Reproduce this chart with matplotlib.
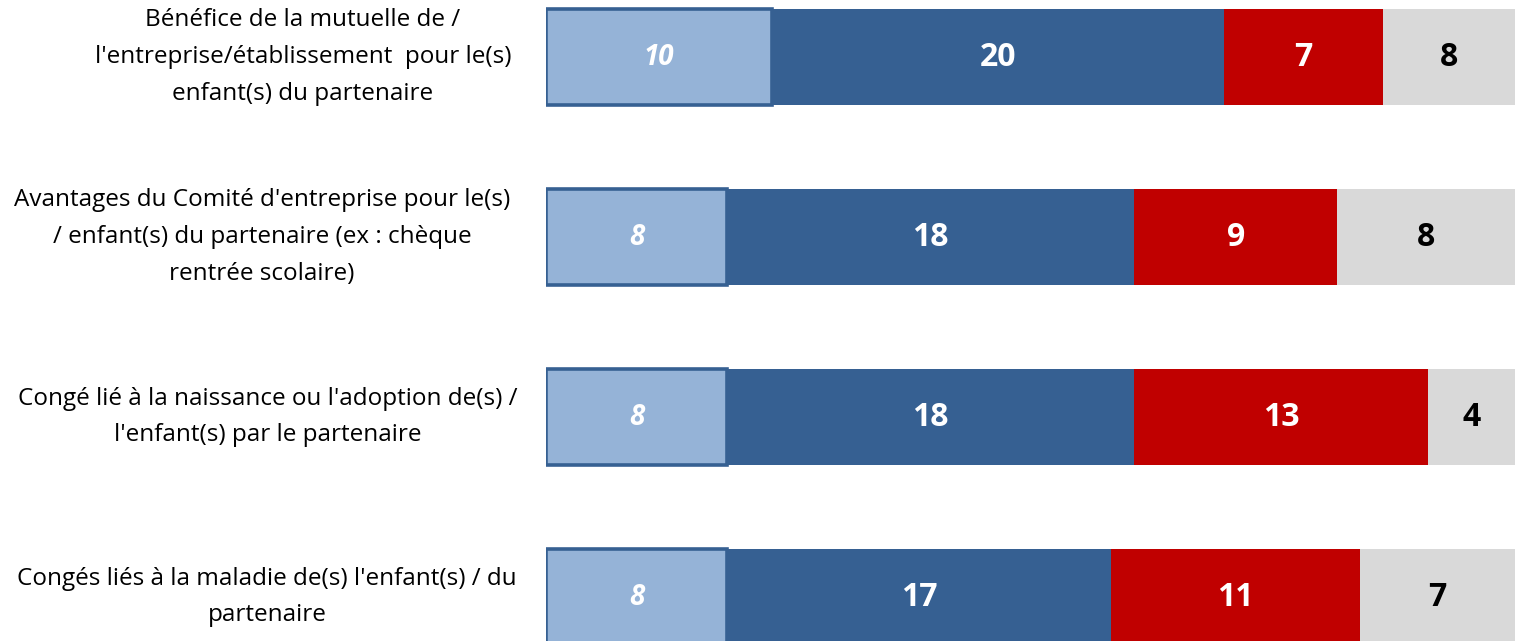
import matplotlib
matplotlib.use("Agg")
import matplotlib.pyplot as plt
import matplotlib.transforms as mtransforms

categories = [
    "Bénéfice de la mutuelle de /\nl'entreprise/établissement  pour le(s)\nenfant(s) du partenaire",
    "Avantages du Comité d'entreprise pour le(s)\n/ enfant(s) du partenaire (ex : chèque\nrentrée scolaire)",
    "Congé lié à la naissance ou l'adoption de(s) /\nl'enfant(s) par le partenaire",
    "Congés liés à la maladie de(s) l'enfant(s) / du\npartenaire",
]
serie_1 = [10, 8, 8, 8]
serie_2 = [20, 18, 18, 17]
serie_3 = [7, 9, 13, 11]
serie_4 = [8, 8, 4, 7]

colors = ["#95B3D7", "#366092", "#C00000", "#D9D9D9"]
text_colors = ["white", "white", "white", "black"]

W, H = 1515, 641
fig = plt.figure(figsize=(W / 100, H / 100), dpi=100)
ax = fig.add_axes([546 / W, 0, 1 - 546 / W, 1])

XMAX = 42.85
ax.set_xlim(0, XMAX)
ax.set_ylim(3.244, -0.317)
ax.axis("off")

h = 0.53
series = [serie_1, serie_2, serie_3, serie_4]
ys = range(len(categories))
left = [0] * len(categories)
for k, vals in enumerate(series):
    if k == 0:
        ax.barh(ys, vals, left=left, height=h, color=colors[k],
                edgecolor=colors[1], linewidth=2.6, zorder=3)
    else:
        ax.barh(ys, vals, left=left, height=h, color=colors[k],
                edgecolor="none", zorder=2)
    for i, v in enumerate(vals):
        x0 = left[i]
        x1 = min(left[i] + v, XMAX)
        if k == 0:
            ax.text((x0 + x1) / 2, i, str(v), ha="center", va="center",
                    color=text_colors[k], fontsize=20, fontweight="bold",
                    style="italic", family="Open Sans", zorder=4)
        else:
            ax.text((x0 + x1) / 2, i, str(v), ha="center", va="center",
                    color=text_colors[k], fontsize=23, fontweight="bold",
                    family="Open Sans", zorder=4)
    left = [a + b for a, b in zip(left, vals)]

label_x = [303, 262, 268, 267]
tr = mtransforms.blended_transform_factory(fig.transFigure, ax.transData)
for i, (lab, lx) in enumerate(zip(categories, label_x)):
    fig.text(lx / W, i, lab, transform=tr, ha="center", va="center",
             multialignment="center", fontsize=17.5, family="Open Sans",
             linespacing=1.7, color="black")

fig.savefig("out.png", dpi=100)
